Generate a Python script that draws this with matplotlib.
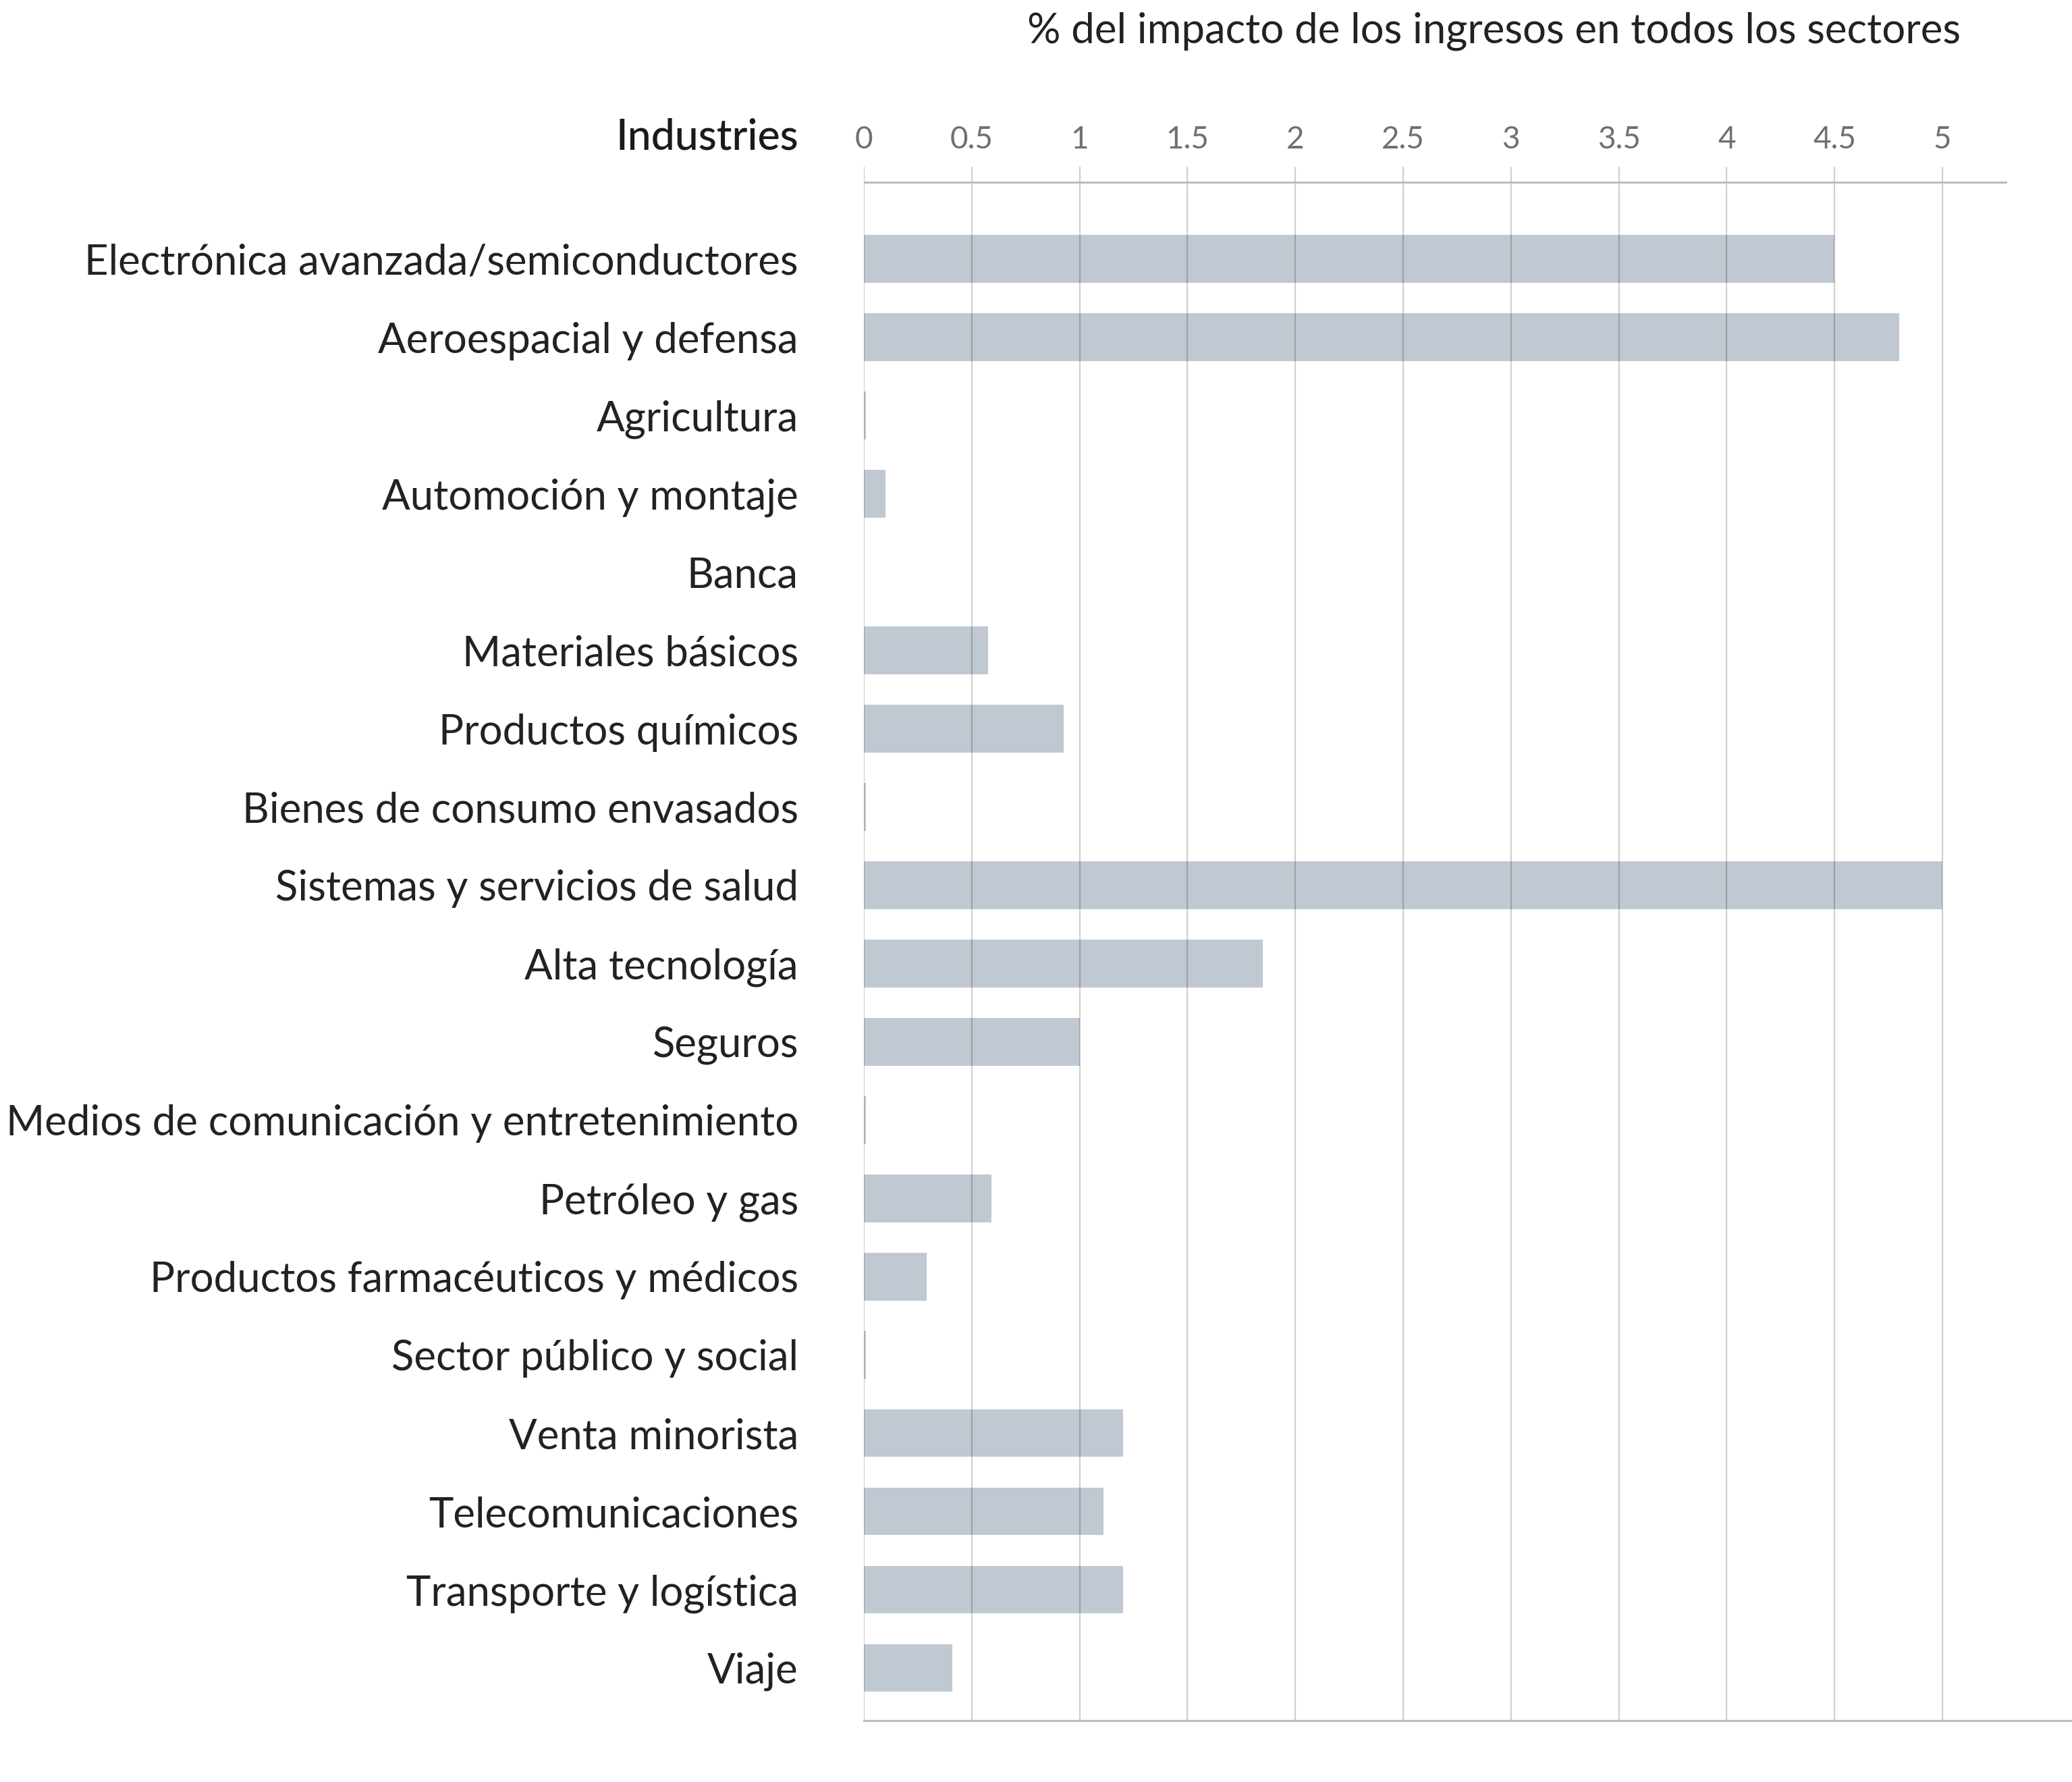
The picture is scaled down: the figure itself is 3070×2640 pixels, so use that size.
import matplotlib
matplotlib.use("Agg")
import matplotlib.pyplot as plt
from matplotlib.lines import Line2D

categories = [
    "Electrónica avanzada/semiconductores",
    "Aeroespacial y defensa",
    "Agricultura",
    "Automoción y montaje",
    "Banca",
    "Materiales básicos",
    "Productos químicos",
    "Bienes de consumo envasados",
    "Sistemas y servicios de salud",
    "Alta tecnología",
    "Seguros",
    "Medios de comunicación y entretenimiento",
    "Petróleo y gas",
    "Productos farmacéuticos y médicos",
    "Sector público y social",
    "Venta minorista",
    "Telecomunicaciones",
    "Transporte y logística",
    "Viaje",
]
values = [4.5, 4.8, 0.01, 0.1, 0.0, 0.575, 0.925, 0.01, 5.0, 1.85, 1.0,
          0.01, 0.59, 0.29, 0.01, 1.2, 1.11, 1.2, 0.41]
tick_values = [0, 0.5, 1, 1.5, 2, 2.5, 3, 3.5, 4, 4.5, 5]
tick_labels = ["0", "0.5", "1", "1.5", "2", "2.5", "3", "3.5", "4", "4.5", "5"]
title = "% del impacto de los ingresos en todos los sectores"
header = "Industries"

plt.rcParams['font.family'] = ['Lato', 'DejaVu Sans']

W, H = 3070, 2640
fig = plt.figure(figsize=(W / 100, H / 100), dpi=100)
fig.patch.set_facecolor("white")

left_px, right_px = 1280, 2974
top_px, bottom_px = 247, 2549
ax = fig.add_axes([left_px / W, 1 - bottom_px / H,
                   (right_px - left_px) / W, (bottom_px - top_px) / H])

y = list(range(len(categories)))
ax.barh(y, values, height=0.61, color="#c0c8d2", zorder=2)

ax.set_xlim(0, 5.3)
ax.set_ylim(18.673, -1.18)

for t in tick_values:
    ax.axvline(t, color="black", alpha=0.19, lw=1.6, zorder=3)

# top and bottom horizontal lines
ax.axhline(-0.981, color="#bdbdbd", lw=2.2, zorder=3)
ax.add_line(Line2D([0, 1.0567], [0, 0], transform=ax.transAxes,
                   color="#bdbdbd", lw=2.2, clip_on=False, zorder=3))

for s in ax.spines.values():
    s.set_visible(False)

ax.xaxis.tick_top()
ax.set_xticks(tick_values)
ax.set_xticklabels(tick_labels, fontsize=33, color="#707070", fontweight="normal")
ax.tick_params(axis="x", length=0, pad=14)

ax.set_yticks(y)
ax.set_yticklabels(categories, fontsize=44.5, color="#222222", fontweight="normal")
ax.tick_params(axis="y", length=0, pad=70)

fig.text(1183 / W, 1 - 203 / H, header, ha="right", va="center",
         fontsize=45, color="#1a1a1a", fontweight="medium")
fig.text(2213 / W, 1 - 46 / H, title, ha="center", va="center",
         fontsize=44.5, color="#222222", fontweight="normal")

fig.savefig("out.png", dpi=100, facecolor="white")
